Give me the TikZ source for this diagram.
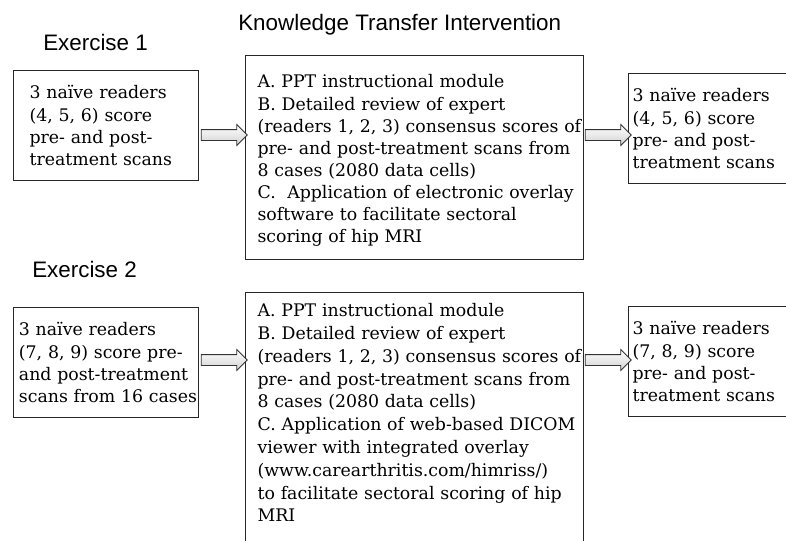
\documentclass[tikz,border=0pt]{standalone}
\usepackage{fontspec}
\setmainfont{DejaVu Serif}
\newfontfamily\headfont{Liberation Sans}
\usetikzlibrary{shapes.arrows}
\newcommand\LL[1]{\mbox{#1}}
\begin{document}
\begin{tikzpicture}[x=0.75pt,y=-0.75pt,
  box/.style={draw=black!85, line width=0.9pt, rectangle, anchor=north west,
    align=left, font=\fontsize{13}{16.6}\selectfont, inner ysep=0pt},
  heading/.style={font=\headfont\fontsize{16.8}{20}\selectfont, anchor=base west, inner sep=0pt},
  blockarrow/.style={single arrow, draw=black!80, line width=0.6pt,
    top color=white, bottom color=gray!35,
    inner sep=0pt, text height=7.5pt, text depth=0pt, text width=0pt,
    minimum height=34.5pt, single arrow head extend=3.75pt}
]
\useasboundingbox (0,0) rectangle (786,540);
\clip (0,0) rectangle (786,540);

\node[heading] (title) at (238,30) {Knowledge Transfer Intervention};
\node[heading] (ex1) at (43,50) {Exercise 1};
\node[heading] (ex2) at (32,277) {Exercise 2};

% Exercise 1
\node[box, inner xsep=12pt, text width=114.75pt, minimum height=82.5pt] (l1) at (13,70)
  {\LL{3 naïve readers}\\\LL{(4, 5, 6) score}\\\LL{pre- and post-}\\\LL{treatment scans}};
\node[box, inner xsep=9pt, text width=235.5pt, minimum height=153pt] (c1) at (245,55)
  {\rule{0pt}{14.5pt}\LL{A. PPT instructional module}\\
   \LL{B. Detailed review of expert}\\
   \LL{(readers 1, 2, 3) consensus scores of}\\
   \LL{pre- and post-treatment scans from}\\
   \LL{8 cases (2080 data cells)}\\
   \LL{C.\ \ Application of electronic overlay}\\
   \LL{software to facilitate sectoral}\\
   \LL{scoring of hip MRI}};
\node[box, inner xsep=3pt, text width=129pt, minimum height=82.5pt] (r1) at (628,73)
  {\LL{3 naïve readers}\\\LL{(4, 5, 6) score}\\\LL{pre- and post-}\\\LL{treatment scans}};

% Exercise 2
\node[box, inner xsep=4pt, text width=130.75pt, minimum height=82.5pt] (l2) at (13,307)
  {\LL{3 naïve readers}\\\LL{(7, 8, 9) score pre-}\\\LL{and post-treatment}\\\LL{scans from 16 cases}};
\node[box, inner xsep=9pt, text width=235.5pt, inner ysep=0pt,
      font=\fontsize{13}{17.1}\selectfont] (c2) at (245,292)
  {\rule{0pt}{18pt}\LL{A. PPT instructional module}\\
   \LL{B. Detailed review of expert}\\
   \LL{(readers 1, 2, 3) consensus scores of}\\
   \LL{pre- and post-treatment scans from}\\
   \LL{8 cases (2080 data cells)}\\
   \LL{C. Application of web-based DICOM}\\
   \LL{viewer with integrated overlay}\\
   \LL{(www.carearthritis.com/himriss/)}\\
   \LL{to facilitate sectoral scoring of hip}\\
   \LL{MRI}\rule[-30pt]{0pt}{30pt}};
\node[box, inner xsep=3pt, text width=129pt, minimum height=82.5pt] (r2) at (628,306)
  {\LL{3 naïve readers}\\\LL{(7, 8, 9) score}\\\LL{pre- and post-}\\\LL{treatment scans}};

% arrows
\node[blockarrow] (a1) at (221.5,135) {};
\node[blockarrow] (a2) at (605.5,135) {};
\node[blockarrow] (a3) at (221.5,360) {};
\node[blockarrow] (a4) at (605.5,360) {};
\end{tikzpicture}
\end{document}
